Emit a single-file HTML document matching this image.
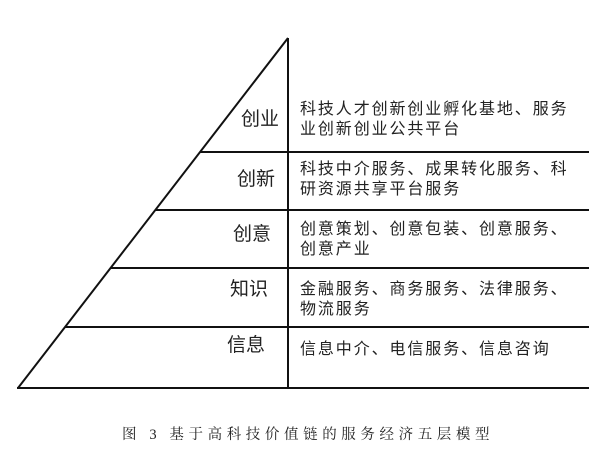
<!DOCTYPE html>
<html><head><meta charset="utf-8"><style>
body{margin:0;background:#fff;}
svg text{font-family:"Liberation Sans","Noto Sans CJK SC",sans-serif;fill:#222;}
</style></head><body>
<svg width="609" height="449" viewBox="0 0 609 449" xmlns="http://www.w3.org/2000/svg">
<g stroke="#111" stroke-width="2" fill="none">
<line x1="288" y1="38" x2="18" y2="388"/>
<line x1="288" y1="38" x2="288" y2="388"/>
<line x1="17" y1="388" x2="589" y2="388"/>
<line x1="200" y1="152" x2="589" y2="152"/>
<line x1="155" y1="210" x2="589" y2="210"/>
<line x1="110" y1="268" x2="589" y2="268"/>
<line x1="65" y1="327" x2="589" y2="327"/>
</g>
<g font-size="19" text-anchor="end">
<text x="279" y="125">创业</text>
<text x="275" y="185">创新</text>
<text x="271" y="240">创意</text>
<text x="268" y="295">知识</text>
<text x="265" y="351">信息</text>
</g>
<g font-size="16" letter-spacing="1.9">
<text x="300" y="114">科技人才创新创业孵化基地、服务</text>
<text x="300" y="134">业创新创业公共平台</text>
<text x="300" y="174">科技中介服务、成果转化服务、科</text>
<text x="300" y="194">研资源共享平台服务</text>
<text x="300" y="234">创意策划、创意包装、创意服务、</text>
<text x="300" y="254">创意产业</text>
<text x="300" y="294">金融服务、商务服务、法律服务、</text>
<text x="300" y="314">物流服务</text>
<text x="300" y="354">信息中介、电信服务、信息咨询</text>
</g>
<text x="122" y="439" font-size="14.5" letter-spacing="4.6" style="font-family:'Liberation Serif','Noto Serif CJK SC',serif">图 3 基于高科技价值链的服务经济五层模型</text>
</svg>
</body></html>
